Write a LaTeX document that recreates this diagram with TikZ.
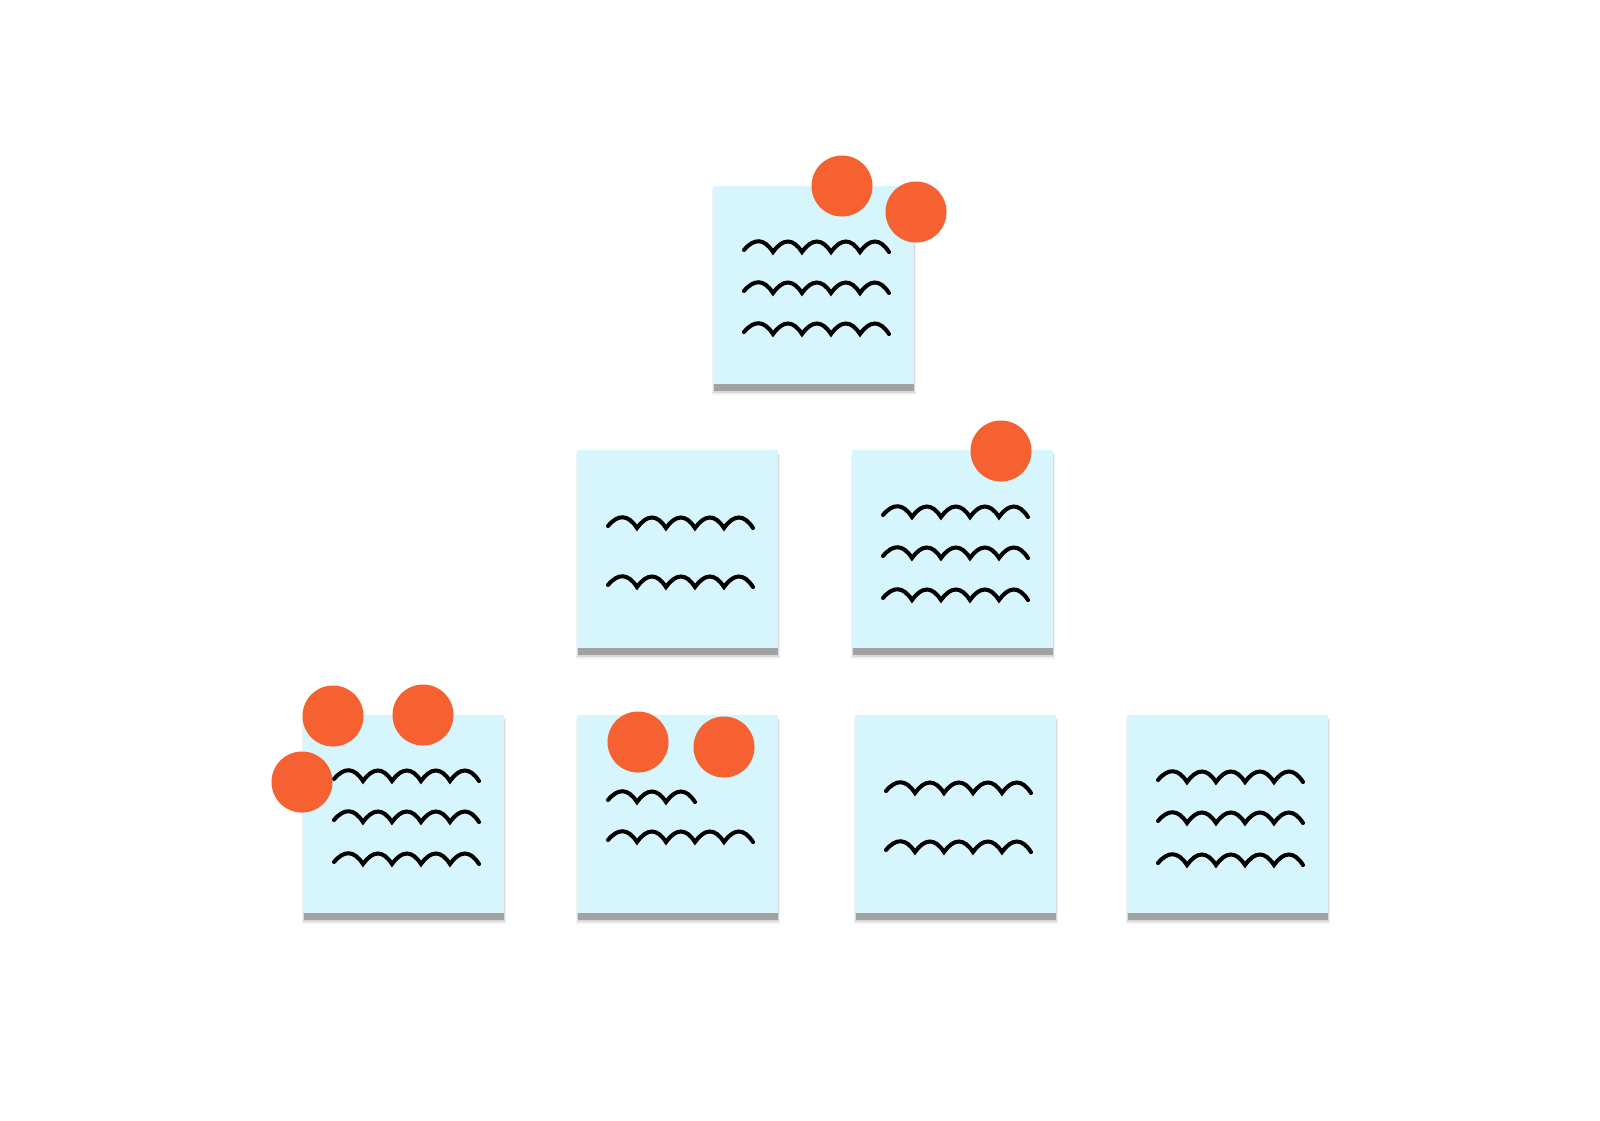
\documentclass[tikz,border=0pt]{standalone}
\usetikzlibrary{calc}
\definecolor{notefill}{HTML}{D6F5FD}
\definecolor{pin}{HTML}{F66131}
\tikzset{
  x=0.01cm, y=-0.01cm,
  notebox/.style={fill=notefill, draw=none, minimum width=2.01cm, minimum height=1.98cm, inner sep=0pt, outer sep=0pt, anchor=north west},
  pindot/.style={circle, fill=pin, draw=none, minimum size=0.61cm, inner sep=0pt},
  squig/.style={draw=black, line width=1.15pt, line cap=round, line join=miter}
}
% #1 x start, #2 y baseline, #3 last bump index (bumps-1)
\newcommand\squigline[3]{%
  \draw[squig] (#1,{#2-2}) \foreach \i in {0,...,#3} {
    .. controls ({#1+\i*29+10},{#2-14}) and ({#1+\i*29+20},{#2-14}) .. ({#1+(\i+1)*29},#2)
  };%
}
% #1 name, #2 left, #3 top
\newcommand\stickynote[3]{%
  \fill[black, opacity=0.05] ({#2-1},{#3+4}) rectangle ({#2+203},{#3+209});
  \fill[black, opacity=0.10] (#2,{#3+4}) rectangle ({#2+202},{#3+207});
  \fill[black, opacity=0.25] ({#2+1},{#3+4}) rectangle ({#2+201},{#3+205});
  \node[notebox] (#1) at (#2,#3) {};
}
\begin{document}
\begin{tikzpicture}
\useasboundingbox[fill=white] (0,0) rectangle (1600,1120);

% top note
\stickynote{n1}{713}{186}
\squigline{744}{252}{4}
\squigline{744}{293}{4}
\squigline{744}{334}{4}

% row 2
\stickynote{n2}{577}{450}
\squigline{608}{528}{4}
\squigline{608}{587}{4}

\stickynote{n3}{852}{450}
\squigline{883}{517}{4}
\squigline{883}{558}{4}
\squigline{883}{600}{4}

% row 3
\stickynote{n4}{303}{715}
\squigline{334}{781}{4}
\squigline{334}{822}{4}
\squigline{334}{864}{4}

\stickynote{n5}{577}{715}
\squigline{608}{802}{2}
\squigline{608}{842}{4}

\stickynote{n6}{855}{715}
\squigline{886}{793}{4}
\squigline{886}{852}{4}

\stickynote{n7}{1127}{715}
\squigline{1158}{782}{4}
\squigline{1158}{823}{4}
\squigline{1158}{865}{4}

% pins
\node[pindot] (p1) at (842,186) {};
\node[pindot] (p2) at (916,212) {};
\node[pindot] (p3) at (1001,451) {};
\node[pindot] (p4) at (333,716) {};
\node[pindot] (p5) at (423,715) {};
\node[pindot] (p6) at (302,782) {};
\node[pindot] (p7) at (638,742) {};
\node[pindot] (p8) at (724,747) {};
\end{tikzpicture}
\end{document}
